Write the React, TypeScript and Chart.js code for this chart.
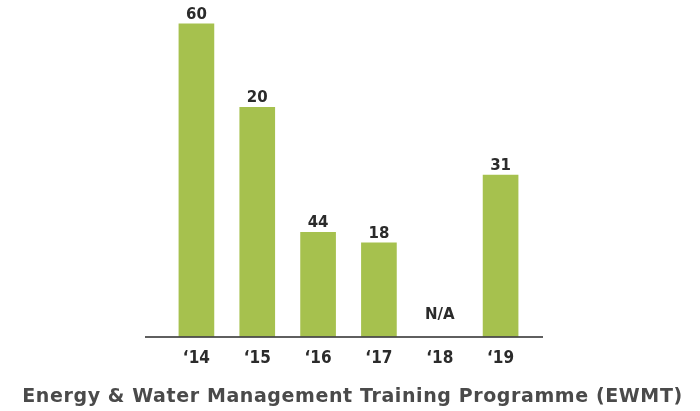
import React, { useEffect, useRef } from "react";
import { Chart, registerables } from "chart.js";

Chart.register(...registerables);

const categories = ["\u201814", "\u201815", "\u201816", "\u201817", "\u201818", "\u201819"];
const barValues: (number | null)[] = [60, 44, 20, 18, null, 31];
const valueLabels = ["60", "20", "44", "18", "N/A", "31"];
const chartTitle = "Energy & Water Management Training Programme (EWMT)";

const FONT = "'DejaVu Sans', sans-serif";
const FONT_COND = "'DejaVu Sans Condensed', 'DejaVu Sans', sans-serif";

const baselinePlugin = {
  id: "baseline",
  afterDatasetsDraw(chart: any) {
    const { ctx, chartArea, scales } = chart;
    const y = scales.y.getPixelForValue(0) + 0.5;
    ctx.save();
    ctx.strokeStyle = "#2a2a2a";
    ctx.lineWidth = 1.5;
    ctx.beginPath();
    ctx.moveTo(chartArea.left - 21, y);
    ctx.lineTo(chartArea.right + 12, y);
    ctx.stroke();
    ctx.restore();
  },
};

const valueLabelPlugin = {
  id: "valueLabels",
  afterDatasetsDraw(chart: any) {
    const { ctx, scales } = chart;
    const meta = chart.getDatasetMeta(0);
    ctx.save();
    ctx.fillStyle = "#2b2b2b";
    ctx.font = `bold 15px ${FONT}`;
    ctx.textAlign = "center";
    ctx.textBaseline = "alphabetic";
    valueLabels.forEach((label, i) => {
      const v = barValues[i];
      const x = scales.x.getPixelForValue(i);
      if (v === null) {
        const y0 = scales.y.getPixelForValue(0);
        ctx.fillText(label, x, y0 - 17.5);
      } else {
        const el = meta.data[i];
        ctx.fillText(label, el.x, el.y - 5);
      }
    });
    ctx.restore();
  },
};

const bottomTitlePlugin = {
  id: "bottomTitle",
  afterDraw(chart: any) {
    const { ctx, width, height } = chart;
    ctx.save();
    ctx.fillStyle = "#4a4a4a";
    ctx.font = `bold 19px ${FONT}`;
    try {
      (ctx as any).letterSpacing = "0.6px";
    } catch (e) {}
    ctx.textAlign = "center";
    ctx.textBaseline = "alphabetic";
    ctx.fillText(chartTitle, width / 2 + 2.5, height - 9.5);
    ctx.restore();
  },
};

export default function App() {
  const canvasRef = useRef<HTMLCanvasElement | null>(null);

  useEffect(() => {
    if (!canvasRef.current) return;
    const chart = new Chart(canvasRef.current, {
      type: "bar",
      data: {
        labels: categories,
        datasets: [
          {
            data: barValues,
            backgroundColor: "#a6c14e",
            barThickness: 35,
            borderWidth: 0,
          },
        ],
      },
      options: {
        animation: false,
        responsive: false,
        maintainAspectRatio: false,
        layout: { padding: { left: 166, right: 169, top: 3, bottom: 31 } },
        plugins: {
          legend: { display: false },
          tooltip: { enabled: false },
          title: { display: false },
        },
        scales: {
          x: {
            grid: { display: false, drawTicks: false },
            border: { display: false },
            ticks: {
              color: "#2b2b2b",
              font: { family: FONT_COND, size: 17, weight: "bold" },
              padding: 11.5,
            },
          },
          y: {
            display: false,
            min: 0,
            max: 64,
          },
        },
      },
      plugins: [baselinePlugin, valueLabelPlugin, bottomTitlePlugin],
    });
    return () => chart.destroy();
  }, []);

  return (
    <div style={{ position: "fixed", left: 0, top: 0, width: 700, height: 411, background: "#fff" }}>
      <canvas ref={canvasRef} width={700} height={411} style={{ display: "block" }} />
    </div>
  );
}
